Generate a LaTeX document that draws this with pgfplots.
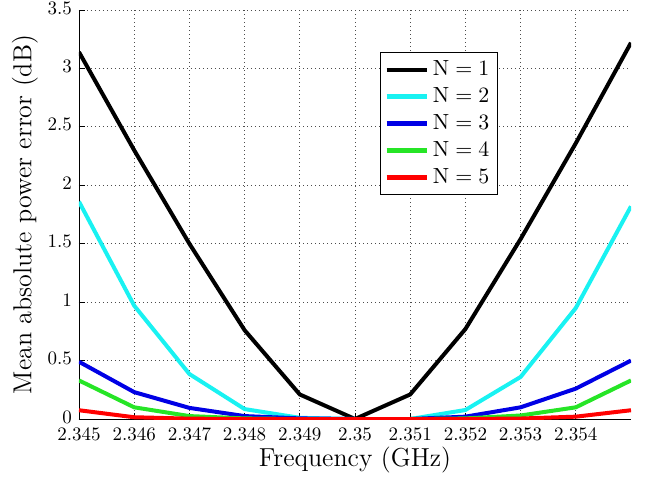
\documentclass[border=0pt]{standalone}
\usepackage{pgfplots}
\pgfplotsset{compat=1.18}
\definecolor{mcyan}{rgb}{0.1,0.95,0.95}
\definecolor{mblue}{rgb}{0,0,0.9}
\definecolor{mgreen}{rgb}{0.15,0.9,0.15}
\definecolor{mred}{rgb}{1,0,0}
\begin{document}
\begin{tikzpicture}
\begin{axis}[
  name=ax,
  scale only axis,
  width=276pt, height=204.5pt,
  xmin=2.345, xmax=2.355, ymin=0, ymax=3.5,
  axis x line*=bottom, axis y line*=left,
  xtick={2.345,2.346,2.347,2.348,2.349,2.35,2.351,2.352,2.353,2.354},
  xticklabels={2.345,2.346,2.347,2.348,2.349,2.35,2.351,2.352,2.353,2.354},
  ytick={0,0.5,1,1.5,2,2.5,3,3.5},
  yticklabels={0,0.5,1,1.5,2,2.5,3,3.5},
  tick align=inside, major tick length=3pt,
  tick style={black, thin},
  grid=major,
  major grid style={black!70, dash pattern=on 0.5pt off 1.5pt, line width=0.45pt},
  ticklabel style={font=\fontsize{9.5}{11}\selectfont},
  xticklabel style={yshift=-1pt},
  yticklabel style={yshift=1pt},
  label style={font=\fontsize{13}{15}\selectfont},
  xlabel={Frequency (GHz)},
  ylabel={Mean absolute power error (dB)},
  xlabel style={yshift=4pt},
  ylabel style={yshift=-2pt},
  legend style={at={(rel axis cs:0.545,0.897)}, anchor=north west,
    font=\fontsize{11}{13}\selectfont, draw=black, line width=0.6pt,
    row sep=0.5pt, inner sep=2pt},
  legend cell align=left,
  legend image code/.code={\draw[#1, line width=2.2pt] (0pt,0pt) -- (20pt,0pt);},
  every axis plot/.append style={line width=2pt},
]
\addplot[black] coordinates {(2.345,3.14) (2.346,2.30) (2.347,1.50) (2.348,0.76) (2.349,0.21) (2.350,0.0) (2.351,0.21) (2.352,0.77) (2.353,1.54) (2.354,2.36) (2.355,3.22)};
\addplot[mcyan] coordinates {(2.345,1.86) (2.346,0.97) (2.347,0.385) (2.348,0.085) (2.349,0.01) (2.350,0.0) (2.351,0.0) (2.352,0.077) (2.353,0.36) (2.354,0.95) (2.355,1.82)};
\addplot[mblue] coordinates {(2.345,0.49) (2.346,0.23) (2.347,0.095) (2.348,0.025) (2.349,0.005) (2.350,0.0) (2.351,0.0) (2.352,0.02) (2.353,0.10) (2.354,0.26) (2.355,0.50)};
\addplot[mgreen] coordinates {(2.345,0.33) (2.346,0.10) (2.347,0.025) (2.348,0.005) (2.349,0.0) (2.350,0.0) (2.351,0.0) (2.352,0.005) (2.353,0.03) (2.354,0.10) (2.355,0.33)};
\addplot[mred] coordinates {(2.345,0.075) (2.346,0.015) (2.347,0.003) (2.348,0.0) (2.349,0.0) (2.350,0.0) (2.351,0.0) (2.352,0.0) (2.353,0.004) (2.354,0.02) (2.355,0.075)};
\legend{$\mathrm{N}=1$,$\mathrm{N}=2$,$\mathrm{N}=3$,$\mathrm{N}=4$,$\mathrm{N}=5$}
\coordinate (sw) at (rel axis cs:0,0);
\end{axis}
\pgfresetboundingbox
\path[use as bounding box] ([shift={(-39.5pt,-29.5pt)}]sw) rectangle ++(324pt,239pt);
\end{tikzpicture}
\end{document}
